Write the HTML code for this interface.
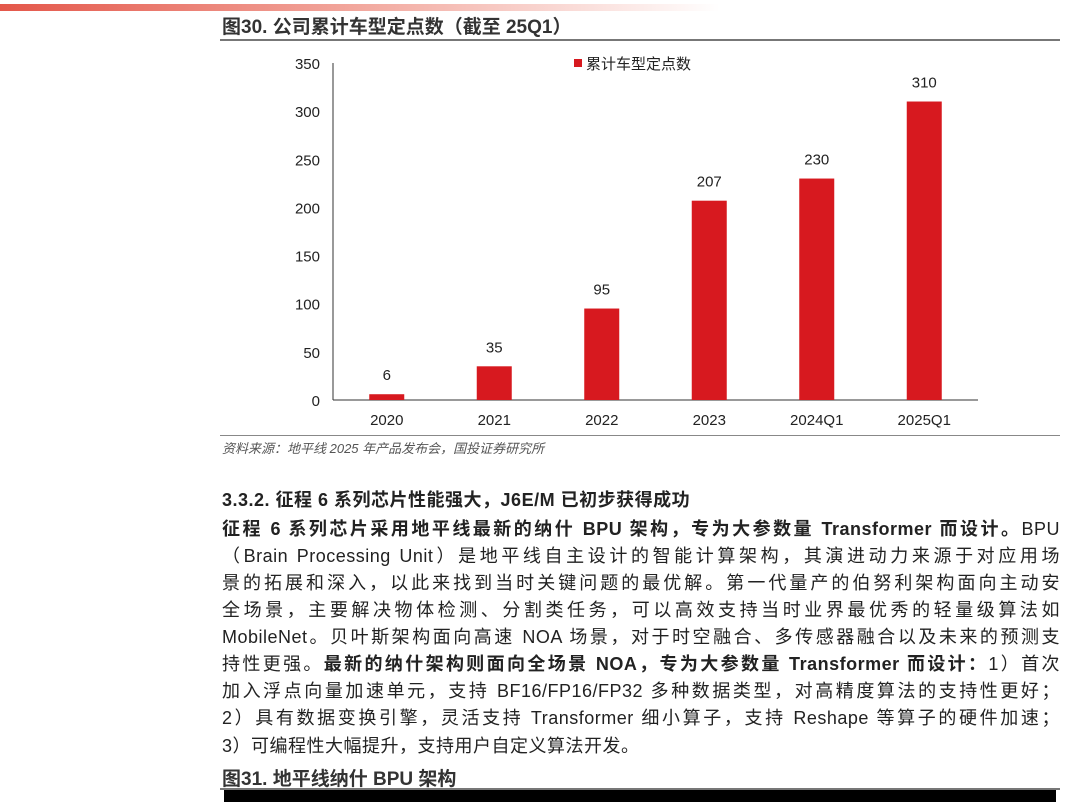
<!DOCTYPE html>
<html><head><meta charset="utf-8">
<style>
body{margin:0;width:1067px;height:802px;background:#fff;position:relative;overflow:hidden;font-family:"Liberation Sans","Noto Sans CJK SC",sans-serif;color:#222}
.ln{position:absolute;left:222px;width:838px;font-size:18px;line-height:22px;white-space:nowrap;text-align:justify;text-align-last:justify;letter-spacing:0.5px}
.ln.l{text-align-last:left}
b{font-weight:bold}
</style></head><body>
<div style="position:absolute;left:0;top:4px;width:720px;height:7px;background:linear-gradient(to right,#e4574a,#f2a89e 50%,rgba(255,255,255,0))"></div>
<div style="position:absolute;left:222px;top:12px;font-size:19px;font-weight:bold;color:#333">图30. 公司累计车型定点数（截至 25Q1）</div>
<div style="position:absolute;left:220px;top:39px;width:840px;height:2px;background:#777"></div>
<svg id="chart" style="position:absolute;left:0;top:0" width="1067" height="440"></svg>
<div style="position:absolute;left:220px;top:435px;width:840px;height:1px;background:#888"></div>
<div style="position:absolute;left:222px;top:438px;font-size:13px;font-style:italic;color:#555">资料来源：地平线 2025 年产品发布会，国投证券研究所</div>
<div class="ln l" style="top:489px;font-weight:bold">3.3.2. 征程 6 系列芯片性能强大，J6E/M 已初步获得成功</div>
<div class="ln" style="top:518px"><b>征程 6 系列芯片采用地平线最新的纳什 BPU 架构，专为大参数量 Transformer 而设计。</b>BPU</div>
<div class="ln" style="top:545px">（Brain Processing Unit）是地平线自主设计的智能计算架构，其演进动力来源于对应用场</div>
<div class="ln" style="top:572px">景的拓展和深入，以此来找到当时关键问题的最优解。第一代量产的伯努利架构面向主动安</div>
<div class="ln" style="top:599px">全场景，主要解决物体检测、分割类任务，可以高效支持当时业界最优秀的轻量级算法如</div>
<div class="ln" style="top:626px">MobileNet。贝叶斯架构面向高速 NOA 场景，对于时空融合、多传感器融合以及未来的预测支</div>
<div class="ln" style="top:653px">持性更强。<b>最新的纳什架构则面向全场景 NOA，专为大参数量 Transformer 而设计：</b>1）首次</div>
<div class="ln" style="top:680px">加入浮点向量加速单元，支持 BF16/FP16/FP32 多种数据类型，对高精度算法的支持性更好；</div>
<div class="ln" style="top:707px">2）具有数据变换引擎，灵活支持 Transformer 细小算子，支持 Reshape 等算子的硬件加速；</div>
<div class="ln l" style="top:735px">3）可编程性大幅提升，支持用户自定义算法开发。</div>
<div style="position:absolute;left:222px;top:764px;font-size:19px;font-weight:bold;color:#333">图31. 地平线纳什 BPU 架构</div>
<div style="position:absolute;left:220px;top:788px;width:840px;height:2px;background:#777"></div>
<div style="position:absolute;left:224px;top:790px;width:832px;height:12px;background:#000"></div>
<script>
const categories=["2020","2021","2022","2023","2024Q1","2025Q1"];
const values=[6,35,95,207,230,310];
const yTicks=[0,50,100,150,200,250,300,350];
const svg=document.getElementById('chart');
const NS='http://www.w3.org/2000/svg';
const x0=333,x1=978,yBase=400,yTop=63,yMax=350;
const band=(x1-x0)/categories.length;
const y=v=>yBase-(v/yMax)*(yBase-yTop);
const xc=i=>x0+band*(i+0.5);
function mk(t,a,txt){const e=document.createElementNS(NS,t);for(const k in a)e.setAttribute(k,a[k]);if(txt!=null)e.textContent=txt;svg.appendChild(e);return e;}
const ax=mk('line',{x1:x0,y1:yTop,x2:x0,y2:yBase,stroke:'#333','stroke-width':1});


const bx=mk('line',{x1:x0,y1:yBase,x2:x1,y2:yBase,stroke:'#333','stroke-width':1});


yTicks.forEach(t=>{
 const e=mk('text',{x:320,y:y(t)+6,'text-anchor':'end','font-size':15,fill:'#222','font-family':'Liberation Sans'},t);
 
 
});
categories.forEach((c,i)=>{
 const bw=35;
 const r=mk('rect',{x:xc(i)-bw/2,y:y(values[i]),width:bw,height:yBase-y(values[i]),fill:'#d7191f'});
 
 
 const v=mk('text',{x:xc(i),y:y(values[i])-14,'text-anchor':'middle','font-size':15,fill:'#222','font-family':'Liberation Sans'},values[i]);
 
 
 const l=mk('text',{x:xc(i),y:425,'text-anchor':'middle','font-size':15,fill:'#222','font-family':'Liberation Sans'},c);
 
 
});
const lm=mk('rect',{x:574,y:59,width:8,height:8,fill:'#d7191f'});


const lt=mk('text',{x:586,y:69,'font-size':15,fill:'#222','font-family':'Liberation Sans, Noto Sans CJK SC, sans-serif'},'累计车型定点数');


</script>
</body></html>
